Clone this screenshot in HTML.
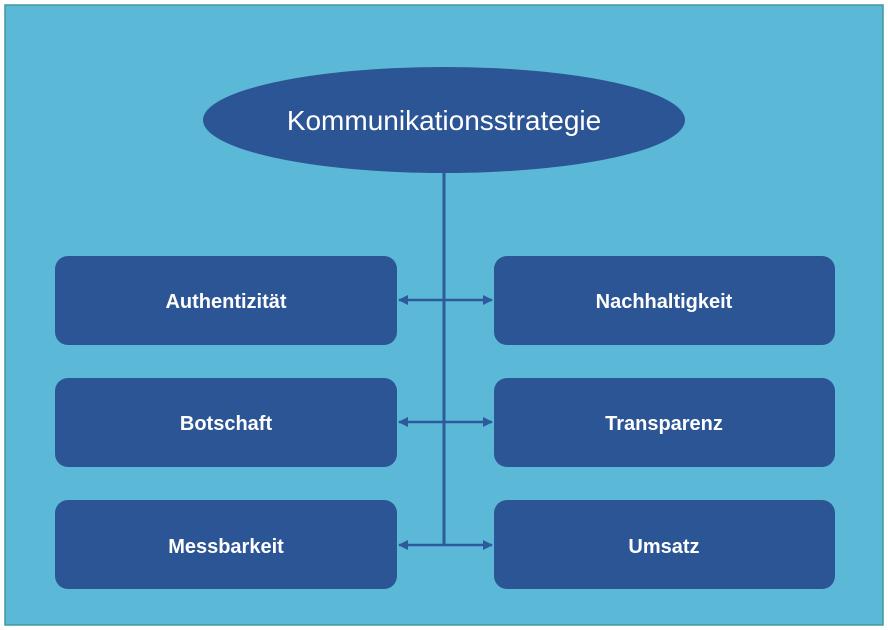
<!DOCTYPE html>
<html><head><meta charset="utf-8"><style>
body{margin:0;width:888px;height:630px;background:#fff;overflow:hidden}
</style></head><body>
<svg width="888" height="630" xmlns="http://www.w3.org/2000/svg" style="position:absolute;left:0;top:0">
<defs>
<marker id="a" viewBox="0 0 10 10" refX="9" refY="5" markerWidth="4" markerHeight="4" orient="auto-start-reverse"><path d="M0,0L10,5L0,10z" fill="#2c5a9a"/></marker>
</defs>
<rect x="5" y="5" width="878" height="620" fill="#5bb9d7" stroke="#3f9a98" stroke-width="1.5"/>
<ellipse cx="444" cy="120" rx="241" ry="53" fill="#2c5595"/>
<line x1="444" y1="172" x2="444" y2="546" stroke="#2c5a9a" stroke-width="3"/>
<g fill="#2c5595">
<rect x="55" y="256" width="342" height="89" rx="13"/>
<rect x="494" y="256" width="341" height="89" rx="13"/>
<rect x="55" y="378" width="342" height="89" rx="13"/>
<rect x="494" y="378" width="341" height="89" rx="13"/>
<rect x="55" y="500" width="342" height="89" rx="13"/>
<rect x="494" y="500" width="341" height="89" rx="13"/>
</g>
<g stroke="#2c5a9a" stroke-width="2.5" marker-start="url(#a)" marker-end="url(#a)">
<line x1="399" y1="300" x2="492" y2="300"/>
<line x1="399" y1="422" x2="492" y2="422"/>
<line x1="399" y1="545" x2="492" y2="545"/>
</g>
<g fill="#fff" font-family="Liberation Sans, sans-serif" text-anchor="middle">
<text x="444" y="130" font-size="28">Kommunikationsstrategie</text>
<g font-size="20" font-weight="bold">
<text x="226" y="308">Authentizität</text>
<text x="664" y="308">Nachhaltigkeit</text>
<text x="226" y="430">Botschaft</text>
<text x="664" y="430">Transparenz</text>
<text x="226" y="553">Messbarkeit</text>
<text x="664" y="553">Umsatz</text>
</g></g>
</svg>
</body></html>
